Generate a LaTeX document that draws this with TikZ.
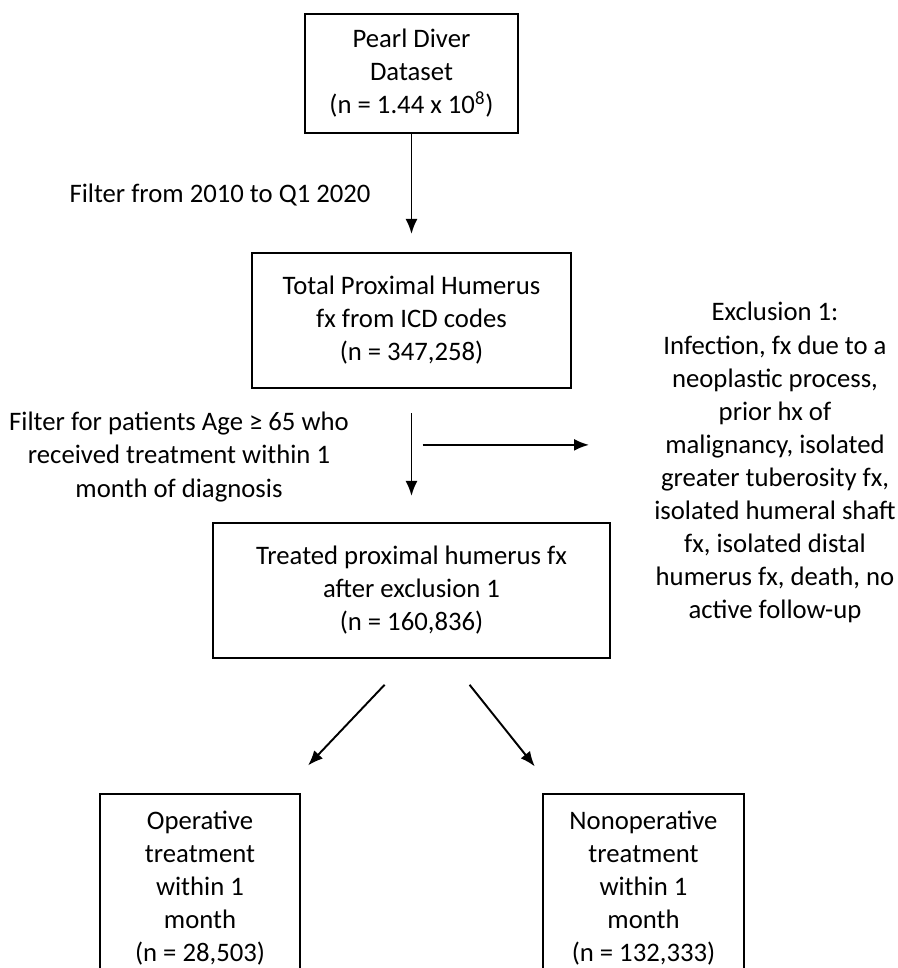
\documentclass[tikz,border=0pt]{standalone}
\usepackage{fontspec}
\setmainfont{Carlito}
\usetikzlibrary{arrows.meta}
\begin{document}
\begin{tikzpicture}[x=0.02cm, y=-0.02cm,
    every node/.style={font=\fontsize{15.2}{18.8}\selectfont, align=center, inner sep=0pt},
    box/.style={draw, line width=1.2pt},
    arr/.style={-{Latex[length=0.3cm, width=0.24cm]}, line width=1.1pt}]
    \useasboundingbox (0,0) rectangle (897,968);
    \clip (0,0) rectangle (897,968);
    \node[box, minimum width=4.26cm, minimum height=2.38cm] (dataset) at (411.5,73.5) {Pearl Diver\\Dataset\\(n = 1.44 x 10\textsuperscript{8})};
    \node[box, minimum width=6.38cm, minimum height=2.7cm] (total) at (411.5,320.5) {Total Proximal Humerus\\fx from ICD codes\\(n = 347,258)};
    \node[box, minimum width=7.94cm, minimum height=2.7cm] (treated) at (411.5,590.5) {Treated proximal humerus fx\\after exclusion 1\\(n = 160,836)};
    \node[box, minimum width=4cm, minimum height=3.76cm] (operative) at (200,888) {Operative\\treatment\\within 1\\month\\(n = 28,503)};
    \node[box, minimum width=4.02cm, minimum height=3.76cm] (nonoperative) at (643.5,888) {Nonoperative\\treatment\\within 1\\month\\(n = 132,333)};
    \node (filterdate) at (220,195) {Filter from 2010 to Q1 2020};
    \node (filterage) at (179,457) {Filter for patients Age ≥ 65 who\\received treatment within 1\\month of diagnosis};
    \node (exclusion) at (775,462.5) {Exclusion 1:\\Infection, fx due to a\\neoplastic process,\\prior hx of\\malignancy, isolated\\greater tuberosity fx,\\isolated humeral shaft\\fx, isolated distal\\humerus fx, death, no\\active follow-up};
    \draw[arr, shorten >=0.36cm] (dataset.south) -- (total.north);
    \draw[arr, shorten <=0.48cm, shorten >=0.52cm] (total.south) -- (treated.north);
    \path (total.south) -- (treated.north) coordinate[pos=0.42] (split);
    \draw[arr, shorten <=0.22cm, shorten >=1.3cm] (split) -- (split -| exclusion.west);
    \draw[arr, shorten <=0.71cm, shorten >=0.76cm] ([xshift=-0.05cm]treated.south) -- ([xshift=1.64cm]operative.north);
    \draw[arr, shorten <=0.66cm, shorten >=0.68cm] ([xshift=0.75cm]treated.south) -- ([xshift=-1.75cm]nonoperative.north);
\end{tikzpicture}
\end{document}
